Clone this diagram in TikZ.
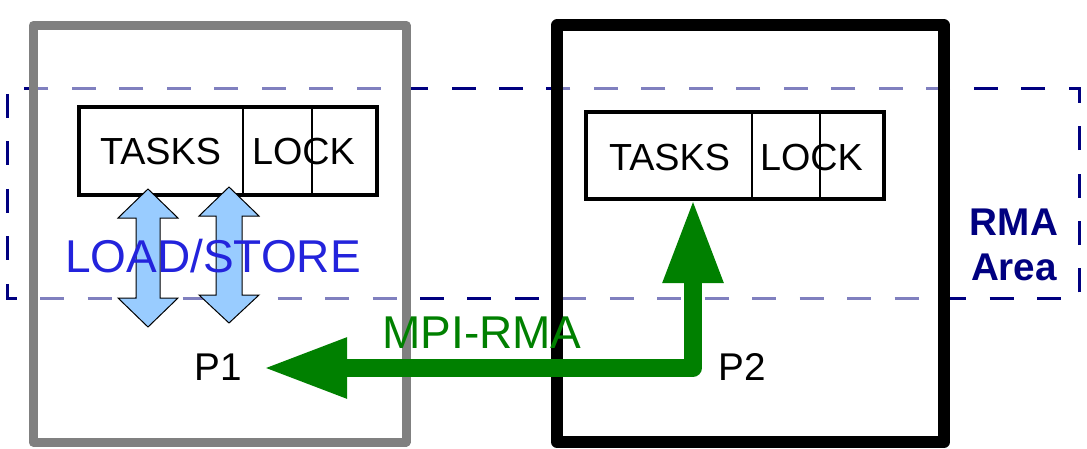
\documentclass[tikz,border=0pt]{standalone}
\usepackage{fontspec}
\setmainfont{Liberation Sans}
\usetikzlibrary{arrows.meta}
\definecolor{rmanavy}{RGB}{0,0,128}
\definecolor{ldstfill}{RGB}{153,204,255}
\definecolor{ldsttext}{RGB}{35,35,220}
\definecolor{rmagreen}{RGB}{0,128,0}
\definecolor{procgray}{RGB}{128,128,128}

\begin{document}
\begin{tikzpicture}[x=0.75pt,y=0.75pt,yscale=-1,xscale=1,
  rmaarea/.style={draw=rmanavy,line width=2.25pt,dash pattern=on 18pt off 17.6pt,dash phase=31.9pt},
  procbox/.style={fill=white,fill opacity=0.5,line join=round},
  winbox/.style={draw=black,line width=3pt,fill=white},
  cellsep/.style={draw=black,line width=1.2pt},
  ldst/.style={draw=black,line width=0.75pt,fill=ldstfill},
  rmaarrow/.style={draw=rmagreen,line width=13.1pt,line join=round,
    {Triangle[length=63pt,width=42pt]}-{Triangle[length=63pt,width=42pt]}},
  celltext/.style={anchor=base,inner sep=0pt,font=\fontsize{28.3}{34}\selectfont},
  bigtext/.style={anchor=base,inner sep=0pt,font=\fontsize{34.5}{40}\selectfont},
  proctext/.style={anchor=base,inner sep=0pt,font=\fontsize{29}{34}\selectfont}]
\useasboundingbox (0,0) rectangle (1087,449);

%RMA area
\draw [rmaarea] (7,89) -- (7,298) -- (1079,298) -- (1079,89) -- cycle ;
%Process P1
\draw [procbox,draw=procgray,line width=6.75pt] (33,25.5) rectangle (406,442) ;
%Process P2
\draw [procbox,draw=black,line width=9pt] (557,25.5) rectangle (944,442) ;

%Window of P1
\draw [winbox] (79,107) rectangle (377,195) ;
\draw [cellsep] (243,107) -- (243,195) ;
\draw [cellsep] (312,107) -- (312,195) ;
%Window of P2
\draw [winbox] (586,112) rectangle (884,199) ;
\draw [cellsep] (752,112) -- (752,199) ;
\draw [cellsep] (820,112) -- (820,199) ;

%Load/store arrows
\draw [ldst] (148,189) -- (178,218) -- (160,218) -- (160,298) -- (178,298) -- (148,327)
  -- (118,298) -- (136,298) -- (136,218) -- (118,218) -- cycle ;
\draw [ldst] (229,187) -- (259,216) -- (242,216) -- (242,295) -- (259,295) -- (229,323)
  -- (199,295) -- (216,295) -- (216,216) -- (199,216) -- cycle ;

% Text Node
\node [celltext] (tasksA) at (160.5,164) {TASKS};
% Text Node
\node [celltext] (lockA) at (303.5,164) {LOCK};
% Text Node
\node [celltext] (tasksB) at (669.5,170) {TASKS};
% Text Node
\node [celltext] (lockB) at (811.5,170) {LOCK};
% Text Node
\node [bigtext,text=ldsttext] (loadstore) at (213,272) {LOAD/STORE};
% Text Node
\node [proctext] (p1) at (218,380) {P1};
% Text Node
\node [proctext] (p2) at (742,380) {P2};
% Text Node
\node [anchor=base,inner sep=0pt,align=center,text=rmanavy,font=\fontsize{29}{33.75}\selectfont\bfseries] (rmalbl) at (1014,280) {RMA\\Area};

%MPI-RMA access
\coordinate (winB) at (693,199);
\coordinate (p1in) at (263,368);
\draw [rmaarrow] (p1in) -| (winB) ;
% Text Node
\node [bigtext,text=rmagreen] (mpirma) at (482,348) {MPI-RMA};

\end{tikzpicture}
\end{document}
